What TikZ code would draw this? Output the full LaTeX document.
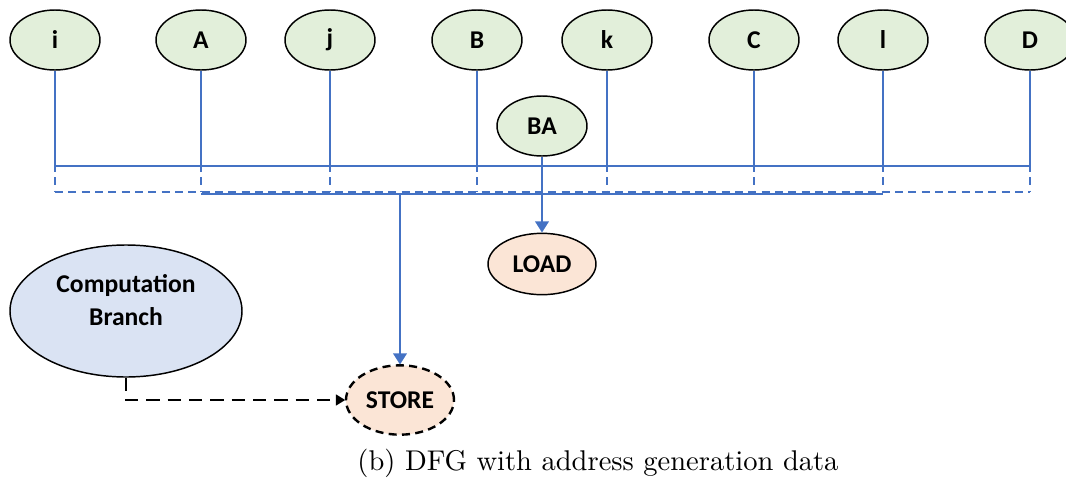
\documentclass[tikz,border=0pt]{standalone}
\usepackage{fontspec}
\newfontfamily\labelfont{Carlito}
\usetikzlibrary{arrows.meta,shapes.geometric}

\definecolor{opgreen}{HTML}{E2EFDA}
\definecolor{oporange}{HTML}{FBE5D6}
\definecolor{opblue}{HTML}{DAE3F3}
\definecolor{linkblue}{HTML}{4472C4}

\begin{document}
\begin{tikzpicture}[x=0.375pt,y=-0.375pt,
  lbl/.style={font=\labelfont\bfseries\fontsize{9.6pt}{11.6pt}\selectfont},
  opnode/.style={ellipse,draw=black,line width=0.55pt,inner sep=0pt,
    minimum width=33.75pt,minimum height=22.5pt,lbl},
  var/.style={opnode,fill=opgreen},
  mem/.style={opnode,fill=oporange,minimum width=40.5pt,minimum height=23pt},
  bus/.style={draw=linkblue,line width=0.6pt},
  busdash/.style={bus,dash pattern=on 3pt off 2pt},
  feed/.style={draw=linkblue,line width=1pt,
    -{Triangle[width=5pt,length=4.2pt]}}]
\useasboundingbox (0,0) rectangle (1066,486);

% index and array inputs
\node[var] (i) at (55,40) {i};
\node[var] (A) at (201,40) {A};
\node[var] (j) at (330,40) {j};
\node[var] (B) at (477,40) {B};
\node[var] (k) at (607,40) {k};
\node[var] (C) at (754,40) {C};
\node[var] (l) at (883,40) {l};
\node[var] (D) at (1030,40) {D};
\node[var] (BA) at (542,126) {BA};

% memory operations
\node[mem] (LOAD) at (542,264) {LOAD};
\node[mem,draw=none,minimum height=26pt] (STORE) at (400,400) {STORE};
\draw[line width=0.9pt,dash pattern=on 3pt off 2pt]
  (STORE.center) ellipse [x radius=20.25pt,y radius=13pt];

% computation branch, label set above the centre
\node[opnode,fill=opblue,minimum width=87pt,minimum height=49.5pt]
  (CB) at (126,311) {};
\node[lbl,align=center] (CBtext) at (126,300) {Computation\\[0.6pt]Branch};

% bus levels
\coordinate (sbus) at (0,166);
\coordinate (dbus) at (0,192);
\coordinate (lbus) at (0,194);

% solid address bus
\foreach \n in {i,A,j,B,k,C,l,D}
  \draw[bus] (\n.south) -- (\n.south |- sbus);
\draw[bus] (i.south |- sbus) -- (D.south |- sbus);

% dashed address bus
\foreach \n in {i,A,j,B,k,C,l,D}
  \draw[busdash] (\n.south) -- (\n.south |- dbus);
\draw[busdash] (i.south |- dbus) -- (D.south |- dbus);
\draw[bus] (A.south |- lbus) -- (l.south |- lbus);

% address feeds
\coordinate (tap) at (400,194);
\draw[feed] (tap) -- (STORE.north);
\draw[feed] (BA.south) -- (LOAD.north);

% data from the computation branch
\coordinate (bend) at (CB.south |- STORE.west);
\draw[line width=1.1pt,dash pattern=on 5pt off 3pt,
  -{Triangle[width=4pt,length=3.5pt]}]
  (CB.south) -- (bend) -- (STORE.west);

% caption
\node[font=\fontsize{10.7pt}{13pt}\selectfont] (cap) at (598,463)
  {(b) DFG with address generation data};
\end{tikzpicture}
\end{document}
